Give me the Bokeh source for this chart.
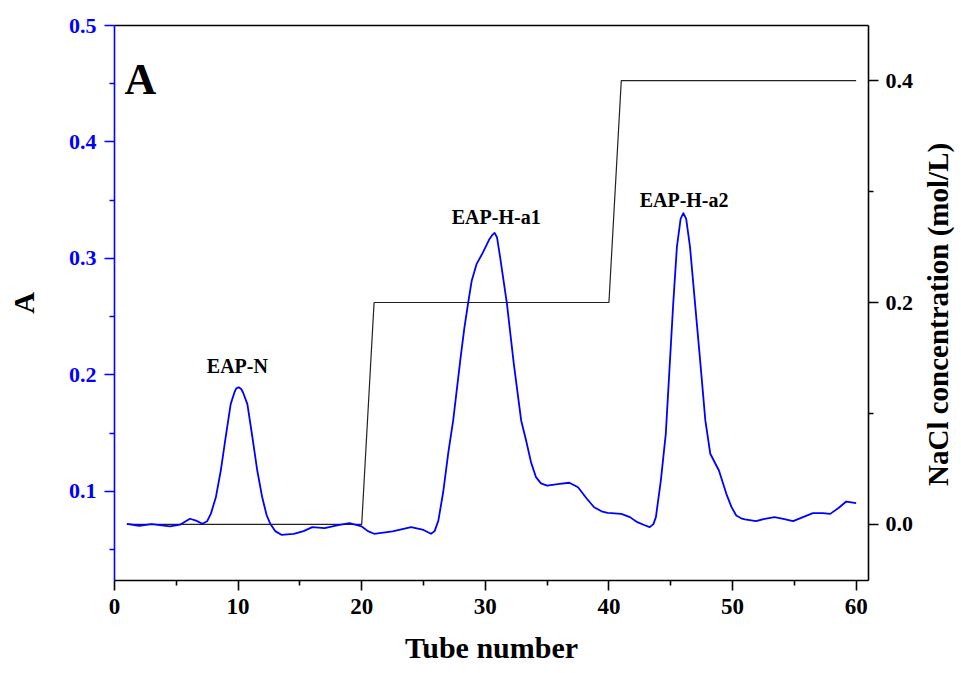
import math
from bokeh.plotting import figure
from bokeh.models import (Range1d, LinearAxis, FixedTicker, PrintfTickFormatter, Label)
from bokeh.core.properties import value
from bokeh.embed import file_html
from bokeh.resources import INLINE

# ---- data ----
tube = [1, 2, 3, 4.5, 5.3, 6.1, 6.6, 7.1, 7.5, 7.8, 8.2, 8.6, 9.0, 9.4, 9.7, 9.85, 10.05,
        10.25, 10.4, 10.75, 11.15, 11.55, 11.95, 12.3, 12.6, 13.0, 13.5, 14.5, 15.3,
        16.0, 17.0, 18.0, 19.0, 20.0, 20.5, 21.0, 22.5, 24.0, 25.0, 25.6, 25.9, 26.2,
        26.6, 27.0, 27.4, 28.0, 28.3, 28.6, 28.9, 29.3, 29.8, 30.3, 30.55, 30.75, 30.95,
        31.2, 31.75, 32.3, 32.9, 33.3, 33.7, 34.1, 34.5, 35.0, 36.0, 36.8, 37.5, 38.2,
        38.8, 39.4, 39.9, 41.0, 41.7, 42.3, 42.9, 43.3, 43.6, 43.8, 44.2, 44.6, 45.2,
        45.5, 45.8, 46.02, 46.25, 46.56, 46.97, 47.4, 47.8, 48.2, 48.9, 49.5, 49.9,
        50.3, 50.7, 51.0, 51.9, 52.6, 53.4, 54.1, 54.9, 55.7, 56.5, 57.3, 57.9, 58.6,
        59.2, 60.0]
absorb = [0.0723, 0.0706, 0.072, 0.070, 0.0715, 0.0766, 0.075, 0.0723, 0.0745, 0.081,
          0.095, 0.118, 0.147, 0.175, 0.185, 0.1885, 0.1895, 0.188, 0.185, 0.175, 0.147,
          0.118, 0.095, 0.080, 0.0723, 0.066, 0.0628, 0.0637, 0.066, 0.0694, 0.0685,
          0.071, 0.0728, 0.070, 0.066, 0.0637, 0.0657, 0.0694, 0.067, 0.0637, 0.066,
          0.075, 0.100, 0.133, 0.161, 0.215, 0.240, 0.261, 0.281, 0.2954, 0.305, 0.316,
          0.320, 0.322, 0.318, 0.301, 0.261, 0.21, 0.161, 0.1438, 0.125, 0.1123, 0.107,
          0.1051, 0.1065, 0.1075, 0.1037, 0.094, 0.0865, 0.083, 0.0817, 0.0808, 0.078,
          0.0737, 0.071, 0.0694, 0.072, 0.078, 0.1094, 0.1495, 0.261, 0.310, 0.334,
          0.339, 0.334, 0.310, 0.261, 0.21, 0.161, 0.1324, 0.118, 0.098, 0.087, 0.0794,
          0.077, 0.076, 0.0745, 0.0765, 0.078, 0.0765, 0.0745, 0.078, 0.0814, 0.0815,
          0.0808, 0.086, 0.0914, 0.090]

nacl_tube = [1, 20, 21, 40, 41, 60]
nacl_conc = [0.0, 0.0, 0.2, 0.2, 0.4, 0.4]

peak_names = ["EAP-N", "EAP-H-a1", "EAP-H-a2"]
peak_x = [9.94, 30.88, 46.08]
peak_y = [0.2073, 0.336, 0.3506]

x_ticks = [0, 10, 20, 30, 40, 50, 60]
x_minor = [5, 15, 25, 35, 45, 55]
a_ticks = [0.1, 0.2, 0.3, 0.4, 0.5]
a_minor = [0.05, 0.15, 0.25, 0.35, 0.45]
n_ticks = [0.0, 0.2, 0.4]
n_minor = [0.1, 0.3]

FONT = "Liberation Serif"
BLUE = "#0000FF"

p = figure(frame_width=754, frame_height=555, output_backend="svg",
           toolbar_location=None, x_range=Range1d(0, 61), y_range=Range1d(0.0236, 0.5),
           min_border_left=114, min_border_right=93, min_border_top=25,
           min_border_bottom=93, background_fill_color="white",
           border_fill_color="white")
p.outline_line_color = None
p.grid.visible = False
p.extra_y_ranges = {"nacl": Range1d(-0.0506, 0.4497)}

# step line (NaCl)
p.line(nacl_tube, nacl_conc, y_range_name="nacl", line_color="#222222", line_width=1.2)
# absorbance curve
p.line(tube, absorb, line_color=BLUE, line_width=1.8, line_join="round")

# peak labels
p.text(peak_x, peak_y, text=peak_names, text_align="center", text_baseline="alphabetic",
       text_font=value(FONT), text_font_style="bold", text_font_size="20px",
       text_color="black")
p.text([2.1], [0.4536], text=["A"], text_align="center", text_baseline="alphabetic",
       text_font=value(FONT), text_font_style="bold", text_font_size="44px",
       text_color="black")


def style(ax, color, lab_size, title_size):
    ax.axis_line_color = color
    ax.axis_line_width = 1.6
    ax.major_tick_line_color = color
    ax.minor_tick_line_color = color
    ax.major_tick_line_width = 1.6
    ax.minor_tick_line_width = 1.6
    ax.major_tick_out = 10
    ax.major_tick_in = 0
    ax.minor_tick_out = 5
    ax.minor_tick_in = 0
    ax.major_label_text_color = color
    ax.major_label_text_font = FONT
    ax.major_label_text_font_style = "bold"
    ax.major_label_text_font_size = lab_size
    ax.axis_label_text_font = FONT
    ax.axis_label_text_font_style = "bold"
    ax.axis_label_text_font_size = title_size
    ax.axis_label_text_color = "black"


# bottom axis
xa = p.xaxis[0]
xa.ticker = FixedTicker(ticks=x_ticks, minor_ticks=x_minor)
xa.axis_label = "Tube number"
style(xa, "black", "23px", "30px")
xa.major_label_standoff = 8
xa.axis_label_standoff = 14

# left axis
ya = p.yaxis[0]
ya.ticker = FixedTicker(ticks=a_ticks, minor_ticks=a_minor)
ya.formatter = PrintfTickFormatter(format="%.1f")
ya.axis_label = "A"
style(ya, BLUE, "22px", "30px")
ya.major_label_standoff = 8
ya.axis_label_standoff = 26

# right axis (title drawn as a rotated label reading bottom-to-top)
ra = LinearAxis(y_range_name="nacl",
                ticker=FixedTicker(ticks=n_ticks, minor_ticks=n_minor),
                formatter=PrintfTickFormatter(format="%.1f"))
style(ra, "black", "22px", "29px")
ra.major_label_standoff = 7
p.add_layout(ra, "right")

p.add_layout(Label(x=66.6, y=0.252, text="NaCl concentration (mol/L)", angle=math.pi / 2,
                   text_align="center", text_baseline="middle", text_font=FONT,
                   text_font_style="bold", text_font_size="29px", text_color="black"),
             "right")

# top frame line
ta = LinearAxis(ticker=FixedTicker(ticks=[]))
ta.axis_line_color = "black"
ta.axis_line_width = 1.6
ta.major_tick_line_color = None
ta.minor_tick_line_color = None
ta.major_label_text_color = None
p.add_layout(ta, "above")

open("out.html", "w").write(file_html(p, INLINE))
